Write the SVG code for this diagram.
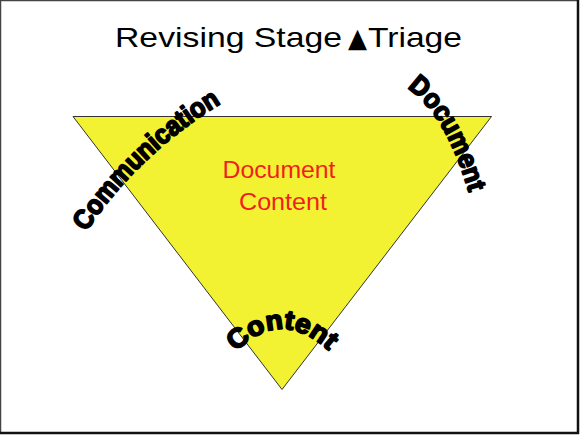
<svg xmlns="http://www.w3.org/2000/svg" width="580" height="436" viewBox="0 0 580 436">
  <style>
    .title { font-family: "Liberation Sans", Arial, sans-serif; font-size: 28px; fill: #000; }
    .tri { font-family: "DejaVu Sans", sans-serif; font-size: 27px; fill: #000; }
    .red { font-family: "Liberation Sans", Arial, sans-serif; font-size: 23px; fill: #f21e1e; text-anchor: middle; }
    .wa { font-family: "Liberation Sans", Arial, sans-serif; font-weight: bold; font-size: 27px; fill: #000; stroke: #000; stroke-width: 1.8px; stroke-linejoin: round; }
  </style>
  <defs>
    <path id="pComm" d="M 86,232 Q 140,152 222,103" fill="none"/>
    <path id="pDoc" d="M 407,88 Q 449,116 472,204" fill="none"/>
    <path id="pCont" d="M 236,352 Q 283,304 334,356" fill="none"/>
  </defs>
  <rect x="0" y="0" width="580" height="436" fill="#fff"/>
  <g id="frame">
    <line x1="0.5" y1="0" x2="0.5" y2="433" stroke="#444" stroke-width="1.5"/>
    <line x1="0" y1="0.5" x2="578" y2="0.5" stroke="#444" stroke-width="1.5"/>
    <line x1="578" y1="0" x2="578" y2="434" stroke="#111" stroke-width="2.5"/>
    <line x1="0" y1="433" x2="579" y2="433" stroke="#111" stroke-width="2.5"/>
  </g>
  <g id="title">
    <text class="title" x="115" y="47" textLength="227" lengthAdjust="spacingAndGlyphs">Revising Stage</text>
    <text class="tri" x="348" y="47" textLength="19" lengthAdjust="spacingAndGlyphs">▲</text>
    <text class="title" x="368" y="47" textLength="94" lengthAdjust="spacingAndGlyphs">Triage</text>
  </g>
  <g id="triangle">
    <polygon points="73,116.5 491.5,116.5 282,389.5" fill="#f2f232" stroke="#333" stroke-width="1"/>
  </g>
  <g id="center-label">
    <text class="red" x="279" y="178" textLength="113" lengthAdjust="spacingAndGlyphs">Document</text>
    <text class="red" x="283" y="210" textLength="88" lengthAdjust="spacingAndGlyphs">Content</text>
  </g>
  <g id="communication">
    <text class="wa"><textPath href="#pComm" textLength="188" lengthAdjust="spacingAndGlyphs">Communication</textPath></text>
  </g>
  <g id="document">
    <text class="wa"><textPath href="#pDoc" textLength="124" lengthAdjust="spacingAndGlyphs">Document</textPath></text>
  </g>
  <g id="content">
    <text class="wa"><textPath href="#pCont" textLength="106" lengthAdjust="spacingAndGlyphs">Content</textPath></text>
  </g>
</svg>
